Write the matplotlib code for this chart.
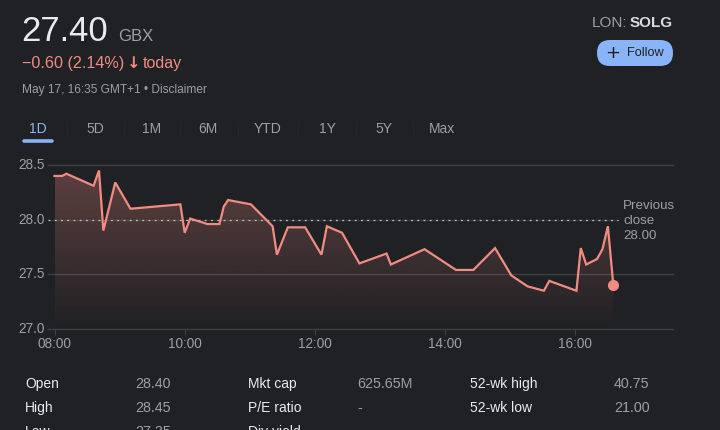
import matplotlib
matplotlib.use("Agg")
import matplotlib.pyplot as plt
import numpy as np
from matplotlib.patches import FancyBboxPatch, Polygon

# ---------------- data ----------------
times = ["08:00", "08:07", "08:11", "08:36", "08:41", "08:45", "08:56", "09:10",
         "09:56", "10:00", "10:05", "10:21", "10:32", "10:36", "10:40", "10:45",
         "11:01", "11:21", "11:25", "11:35", "11:51", "12:06", "12:11", "12:25",
         "12:41", "13:06", "13:10", "13:41", "14:10", "14:26", "14:46", "15:01",
         "15:16", "15:31", "15:36", "16:01", "16:05", "16:10", "16:20", "16:25",
         "16:30", "16:35"]
prices = [28.40, 28.40, 28.42, 28.31, 28.45, 27.90, 28.34, 28.10,
          28.14, 27.88, 28.01, 27.96, 27.96, 28.12, 28.18, 28.17,
          28.14, 27.94, 27.68, 27.93, 27.93, 27.68, 27.94, 27.88,
          27.60, 27.69, 27.59, 27.73, 27.54, 27.54, 27.74, 27.49,
          27.39, 27.35, 27.44, 27.35, 27.74, 27.59, 27.64, 27.73,
          27.94, 27.40]
prev_close = 28.00
y_ticks = [27.0, 27.5, 28.0, 28.5]
x_tick_labels = ["08:00", "10:00", "12:00", "14:00", "16:00"]
tabs = ["1D", "5D", "1M", "6M", "YTD", "1Y", "5Y", "Max"]
stats_labels = [["Open", "High", "Low"], ["Mkt cap", "P/E ratio", "Div yield"],
                ["52-wk high", "52-wk low", ""]]
stats_values = [["28.40", "28.45", "27.35"], ["625.65M", "-", ""],
                ["40.75", "21.00", ""]]


def to_h(s):
    h, m = s.split(":")
    return int(h) + int(m) / 60.0


xs = np.array([to_h(t) for t in times])
ys = np.array(prices)
xt = [to_h(t) for t in x_tick_labels]

# ---------------- style ----------------
BG = "#202124"
LINE = "#f28b82"
GRID = "#3c4043"
GREY = "#9aa0a6"
WHITE = "#e8eaed"
BLUE = "#8ab4f8"
FONT = ["Liberation Sans", "DejaVu Sans"]
plt.rcParams["font.family"] = FONT

W, H = 720, 430
fig = plt.figure(figsize=(7.2, 4.3), dpi=100, facecolor=BG)


def fx(px):
    return px / W


def fy(py):
    return 1 - py / H


# axes: left 48px, right 673px, top 165px (28.5), bottom 329px (27.0)
ax = fig.add_axes([fx(48), fy(329), fx(673 - 48), (329 - 165) / H])
ax.set_facecolor(BG)
for s in ax.spines.values():
    s.set_visible(False)

for yv in y_ticks:
    if yv == prev_close:
        continue
    ax.axhline(yv, color=GRID, lw=1.0, zorder=1, clip_on=False)

# gradient fill under the line
grad = np.zeros((256, 1, 4))
rgb = matplotlib.colors.to_rgb(LINE)
grad[..., 0], grad[..., 1], grad[..., 2] = rgb
grad[:, 0, 3] = np.linspace(0.0, 0.3, 256)
im = ax.imshow(grad, extent=[xs[0], xs[-1], 27.0, 28.5], origin="lower",
               aspect="auto", zorder=2, interpolation="bilinear")
poly_pts = np.vstack([np.column_stack([xs, ys]), [[xs[-1], 27.0], [xs[0], 27.0]]])
clip = Polygon(poly_pts, closed=True, transform=ax.transData, facecolor="none",
               edgecolor="none")
ax.add_patch(clip)
im.set_clip_path(clip)
ax.set_xlim(7.9, 17.5)
ax.set_ylim(27.0, 28.5)

# previous close dotted line
ax.axhline(prev_close, xmax=(16.66 - 7.9) / 9.6, color="#38393c", lw=1.0, zorder=1)
ax.plot([7.9, 16.66], [prev_close, prev_close], color="#bdc1c6", lw=0.9,
        dashes=(1.5, 3.5), zorder=3)

ax.plot(xs, ys, color=LINE, lw=1.6, zorder=4, solid_joinstyle="miter")
ax.plot(xs[-1], ys[-1], "o", color=LINE, ms=7, zorder=5)

ax.set_xticks(xt)
ax.set_xticklabels(x_tick_labels)
ax.set_yticks(y_ticks)
ax.set_yticklabels([f"{v:.1f}" for v in y_ticks])
ax.tick_params(axis="x", colors=GRID, labelcolor=GREY, labelsize=9.8, length=4,
               width=0.8, pad=2, direction="out")
ax.tick_params(axis="y", colors=GREY, labelcolor=GREY, labelsize=9.8, length=0,
               pad=2)
for t in ax.get_yticklabels():
    t.set_va("center")

# Previous close label
for txt, py in zip(["Previous", "close", "28.00"], [206, 221, 236]):
    fig.text(fx(623), fy(py), txt, color=GREY, fontsize=9.6, va="center",
             ha="left", family=FONT)

# ---------------- header ----------------
fig.text(fx(21), fy(41), "27.40", color=WHITE, fontsize=25, va="baseline",
         family=FONT)
fig.text(fx(118), fy(41), "GBX", color=GREY, fontsize=12, va="baseline",
         family=FONT)
fig.text(fx(22), fy(68), "\u22120.60 (2.14%)", color=LINE, fontsize=11.6,
         va="baseline", family=FONT)
fig.text(fx(127), fy(68), "\u2193", color=LINE, fontsize=11.6, va="baseline",
         family=["DejaVu Sans"], fontweight="bold")
fig.text(fx(143), fy(68), "today", color=LINE, fontsize=11.6, va="baseline",
         family=FONT)
fig.text(fx(22), fy(93), "May 17, 16:35 GMT+1 \u2022 Disclaimer", color=GREY,
         fontsize=8.6, va="baseline", family=FONT)

# LON: SOLG
fig.text(fx(673), fy(27), "SOLG", color="#dadce0", fontsize=11, ha="right",
         va="baseline", family=FONT, fontweight="bold")
fig.text(fx(627), fy(27), "LON:", color=GREY, fontsize=11, ha="right",
         va="baseline", family=FONT)

# Follow button
btn = FancyBboxPatch((fx(597), fy(66)), fx(76), 26 / H,
                     boxstyle="round,pad=0,rounding_size=0.018",
                     transform=fig.transFigure, facecolor=BLUE, edgecolor="none",
                     mutation_aspect=720 / 430)
fig.patches.append(btn)
fig.text(fx(613), fy(53), "+", color="#202124", fontsize=13, ha="center",
         va="center", family=["DejaVu Sans"])
fig.text(fx(627), fy(53), "Follow", color="#202124", fontsize=9.2, ha="left",
         va="center", family=FONT)

# tabs
tab_x = [38, 95, 152, 208, 268, 327, 384, 442]
for i, (t, x) in enumerate(zip(tabs, tab_x)):
    fig.text(fx(x), fy(129), t, color=BLUE if i == 0 else GREY, fontsize=10,
             ha="center", va="center", family=FONT)
    if i < len(tabs) - 1:
        sep = (x + tab_x[i + 1]) / 2
        fig.add_artist(plt.Line2D([fx(sep), fx(sep)], [fy(121), fy(137)],
                                  color="#25262a", lw=0.8, transform=fig.transFigure))
fig.add_artist(plt.Line2D([fx(24), fx(52)], [fy(141), fy(141)], color=BLUE,
                          lw=2.6, solid_capstyle="round", transform=fig.transFigure))

# stats table (third row is cut by the bottom edge, as in the reference)
col_lab_x = [25, 248, 470]
col_val_x = [135, 357, 614]
row_y = [388, 412, 436]
for c in range(3):
    for r in range(3):
        if stats_labels[c][r]:
            fig.text(fx(col_lab_x[c]), fy(row_y[r]), stats_labels[c][r],
                     color=WHITE, fontsize=10, va="baseline", family=FONT)
        if stats_values[c][r]:
            fig.text(fx(col_val_x[c]), fy(row_y[r]), stats_values[c][r],
                     color=GREY, fontsize=10.3, va="baseline", family=FONT)

fig.savefig("out.png", dpi=100, facecolor=BG)
